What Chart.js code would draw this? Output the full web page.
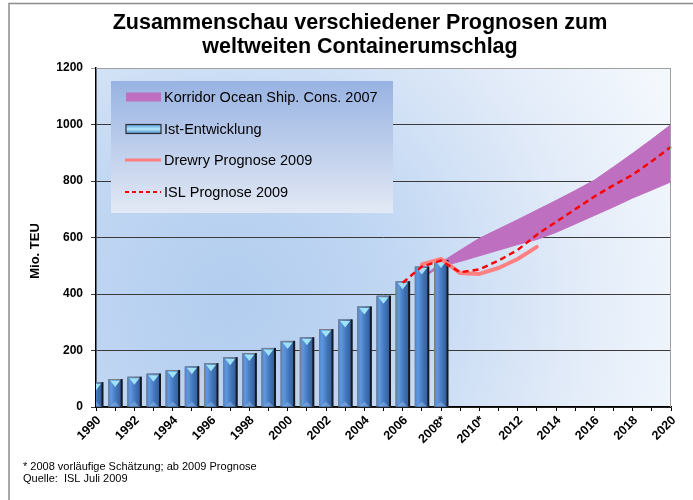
<!DOCTYPE html>
<html>
<head>
<meta charset="utf-8">
<script src="https://cdn.jsdelivr.net/npm/chart.js@4.4.1/dist/chart.umd.min.js"></script>
<style>
html,body{margin:0;padding:0;background:#fff;}
#wrap{width:693px;height:500px;position:relative;}
</style>
</head>
<body>
<div id="wrap"><canvas id="c" width="693" height="500"></canvas></div>
<script>
// ---------- data ----------
const categories = ['1990','1991','1992','1993','1994','1995','1996','1997','1998','1999',
  '2000','2001','2002','2003','2004','2005','2006','2007','2008*','2009*','2010*',
  '2011','2012','2013','2014','2015','2016','2017','2018','2019','2020'];

const istEntwicklung = [88,99,107,118,131,144,155,176,191,209,234,247,276,310,356,394,445,497,520,
  null,null,null,null,null,null,null,null,null,null,null,null];

const korridorOben = [null,null,null,null,null,null,null,null,null,null,null,null,null,null,null,null,null,
  457,512,555,597,630,663,697,731,766,803,850,898,948,1000];

const korridorUnten = [null,null,null,null,null,null,null,null,null,null,null,null,null,null,null,null,null,
  457,497,515,535,555,575,593,618,648,678,708,740,768,797];

const drewry = [null,null,null,null,null,null,null,null,null,null,null,null,null,null,null,null,null,
  505,524,474,471,492,524,567,null,null,null,null,null,null,null];

const isl = [null,null,null,null,null,null,null,null,null,null,null,null,null,null,null,null,
  440,497,518,477,487,518,556,610,655,700,745,785,822,870,921];

const yTicks = [0,200,400,600,800,1000,1200];

const titleLines = ['Zusammenschau verschiedener Prognosen zum','weltweiten Containerumschlag'];
const yTitle = 'Mio. TEU';
const legendLabels = ['Korridor Ocean Ship. Cons. 2007','Ist-Entwicklung','Drewry Prognose 2009','ISL Prognose 2009'];
const footnotes = ['* 2008 vorläufige Schätzung; ab 2009 Prognose','Quelle:  ISL Juli 2009'];

// ---------- styling ----------
const FONT = "'Liberation Sans', Arial, Helvetica, sans-serif";
const PURPLE = '#bf6fbf';

const decor = {
  id: 'decor',
  beforeDraw(chart) {
    const {ctx, chartArea: a} = chart;
    ctx.save();
    ctx.fillStyle = '#fff';
    ctx.fillRect(0, 0, chart.width, chart.height);
    const g = ctx.createRadialGradient(230, 300, 0, 230, 300, 480);
    g.addColorStop(0, '#b2cdef');
    g.addColorStop(0.35, '#c1d7f3');
    g.addColorStop(0.7, '#e0eaf8');
    g.addColorStop(1, '#f4f8fd');
    ctx.fillStyle = g;
    ctx.fillRect(a.left, a.top, a.right - a.left, a.bottom - a.top);
    // outer frame
    ctx.strokeStyle = '#8c8c8c';
    ctx.lineWidth = 1.5;
    ctx.beginPath();
    ctx.moveTo(9, 500); ctx.lineTo(9, 3.5); ctx.lineTo(693, 3.5);
    ctx.stroke();
    ctx.restore();
  },
  afterDatasetDraw(chart, args) {
    if (args.meta.type !== 'bar') return;
    const {ctx, chartArea: a} = chart;
    const values = chart.data.datasets[args.index].data;
    ctx.save();
    ctx.beginPath();
    ctx.rect(a.left, a.top, a.right - a.left, a.bottom - a.top);
    ctx.clip();
    args.meta.data.forEach((el, i) => {
      if (values[i] == null) return;
      const p = el.getProps(['x', 'y', 'width', 'base'], true);
      if (p.y == null || isNaN(p.y)) return;
      const l = p.x - p.width / 2, r = p.x + p.width / 2, t = p.y, b = p.base, h = b - t;
      const g = ctx.createLinearGradient(l, 0, r, 0);
      g.addColorStop(0, '#4f86cf');
      g.addColorStop(0.22, '#5f98de');
      g.addColorStop(0.45, '#4c81c8');
      g.addColorStop(0.62, '#4072b5');
      g.addColorStop(1, '#2f5995');
      ctx.fillStyle = g;
      ctx.fillRect(l, t, p.width, h);
      // bottom lighter wedge
      ctx.fillStyle = 'rgba(140,180,230,0.55)';
      ctx.beginPath();
      ctx.moveTo(l + 2, b); ctx.lineTo(r - 2, b); ctx.lineTo(p.x, b - 5); ctx.closePath();
      ctx.fill();
      // top cyan wedge
      ctx.fillStyle = '#9fe2f8';
      ctx.beginPath();
      ctx.moveTo(l + 2, t + 1.5); ctx.lineTo(r - 2, t + 1.5); ctx.lineTo(p.x, t + Math.min(8, h / 2)); ctx.closePath();
      ctx.fill();
      // outlines
      ctx.lineWidth = 1;
      ctx.strokeStyle = '#7a7f88';
      ctx.beginPath();
      ctx.moveTo(l + 0.5, b); ctx.lineTo(l + 0.5, t + 0.5); ctx.lineTo(r, t + 0.5);
      ctx.stroke();
      ctx.fillStyle = '#15181f';
      ctx.fillRect(r - 1.5, t, 2, h);
    });
    ctx.restore();
  },
  afterDraw(chart) {
    const {ctx, chartArea: a} = chart;
    ctx.save();
    // plot border top/right
    ctx.strokeStyle = '#a0a0a0';
    ctx.lineWidth = 1;
    ctx.beginPath();
    ctx.moveTo(a.left, a.top + 0.5); ctx.lineTo(a.right - 0.5, a.top + 0.5); ctx.lineTo(a.right - 0.5, a.bottom);
    ctx.stroke();

    // title
    ctx.fillStyle = '#000';
    ctx.textAlign = 'center';
    ctx.textBaseline = 'middle';
    ctx.font = 'bold 21.5px ' + FONT;
    ctx.fillText(titleLines[0], 360, 23);
    ctx.fillText(titleLines[1], 360, 47);

    // y title
    ctx.save();
    ctx.translate(35, 251);
    ctx.rotate(-Math.PI / 2);
    ctx.font = 'bold 13px ' + FONT;
    ctx.fillText(yTitle, 0, 0);
    ctx.restore();

    // footnotes
    ctx.textAlign = 'left';
    ctx.font = '11px ' + FONT;
    ctx.fillText(footnotes[0], 23, 467);
    ctx.fillText(footnotes[1], 23, 479);

    // legend box
    const lx = 111, ly = 81, lw = 282, lh = 132;
    const lg = ctx.createLinearGradient(0, ly, 0, ly + lh);
    lg.addColorStop(0, '#98b3e2');
    lg.addColorStop(1, '#e3e9f5');
    ctx.fillStyle = lg;
    ctx.fillRect(lx, ly, lw, lh);

    const rows = [97, 129, 160, 192];
    // Korridor swatch
    ctx.fillStyle = PURPLE;
    ctx.fillRect(126, rows[0] - 4.5, 35, 9);
    // Ist swatch
    const bg = ctx.createLinearGradient(0, rows[1] - 4.5, 0, rows[1] + 4.5);
    bg.addColorStop(0, '#5a98d6');
    bg.addColorStop(0.5, '#b5ebfb');
    bg.addColorStop(1, '#4f88c8');
    ctx.fillStyle = bg;
    ctx.fillRect(126, rows[1] - 4.5, 35, 9);
    ctx.strokeStyle = '#2a2f3a';
    ctx.lineWidth = 1.2;
    ctx.strokeRect(126, rows[1] - 4.5, 35, 9);
    // Drewry line
    ctx.strokeStyle = '#ff8080';
    ctx.lineWidth = 3;
    ctx.beginPath(); ctx.moveTo(125, rows[2]); ctx.lineTo(161, rows[2]); ctx.stroke();
    // ISL line
    ctx.strokeStyle = '#ff0000';
    ctx.lineWidth = 2;
    ctx.setLineDash([4, 3]);
    ctx.beginPath(); ctx.moveTo(125, rows[3]); ctx.lineTo(161, rows[3]); ctx.stroke();
    ctx.setLineDash([]);

    ctx.fillStyle = '#000';
    ctx.font = '14.5px ' + FONT;
    ctx.textBaseline = 'middle';
    legendLabels.forEach((t, i) => ctx.fillText(t, 164, rows[i] + 1));
    ctx.restore();
  }
};

new Chart(document.getElementById('c'), {
  type: 'bar',
  data: {
    labels: categories,
    datasets: [
      {type: 'line', label: 'Korridor oben', data: korridorOben, borderColor: PURPLE, borderWidth: 1,
       backgroundColor: PURPLE, pointRadius: 0, fill: '+1', order: 3, tension: 0},
      {type: 'line', label: 'Korridor unten', data: korridorUnten, borderColor: PURPLE, borderWidth: 1,
       pointRadius: 0, fill: false, order: 3, tension: 0},
      {type: 'bar', label: 'Ist-Entwicklung', data: istEntwicklung, backgroundColor: '#4478c0',
       borderColor: '#1e2633', borderWidth: 0, barPercentage: 0.73, categoryPercentage: 1, order: 2},
      {type: 'line', label: 'Drewry Prognose 2009', data: drewry, borderColor: '#ff8080', borderWidth: 4,
       pointRadius: 0, fill: false, order: 1, borderCapStyle: 'round', borderJoinStyle: 'round', tension: 0},
      {type: 'line', label: 'ISL Prognose 2009', data: isl, borderColor: '#ff0000', borderWidth: 2.5,
       borderDash: [6, 4], pointRadius: 0, fill: false, order: 0, tension: 0}
    ]
  },
  options: {
    responsive: false,
    animation: false,
    devicePixelRatio: 1,
    layout: {padding: {top: 68, right: 22, left: 0, bottom: 0}},
    plugins: {legend: {display: false}, tooltip: {enabled: false}, title: {display: false}},
    scales: {
      x: {
        offset: false,
        grid: {offset: false, drawOnChartArea: false, drawTicks: true, tickLength: 4, color: '#000', lineWidth: 1},
        border: {color: '#000', width: 1.5},
        ticks: {
          autoSkip: false, maxRotation: 45, minRotation: 45, padding: 2, labelOffset: 3,
          color: '#000', font: {family: FONT, size: 12.5, weight: 'bold'},
          callback: (v, i) => (i % 2 === 0 ? categories[i] : '')
        },
        afterFit: s => { s.height = 93; }
      },
      y: {
        min: 0, max: 1200,
        afterBuildTicks: s => { s.ticks = yTicks.map(v => ({value: v})); },
        grid: {
          color: c => (c.tick && c.tick.value === 1200 ? '#a0a0a0' : '#3a3a3a'),
          lineWidth: 1, tickLength: 5, drawTicks: true
        },
        border: {color: '#000', width: 1.5},
        ticks: {color: '#000', padding: 8, font: {family: FONT, size: 12, weight: 'bold'},
          callback: v => String(v)},
        afterFit: s => { s.width = 96; }
      }
    }
  },
  plugins: [decor]
});
</script>
</body>
</html>
